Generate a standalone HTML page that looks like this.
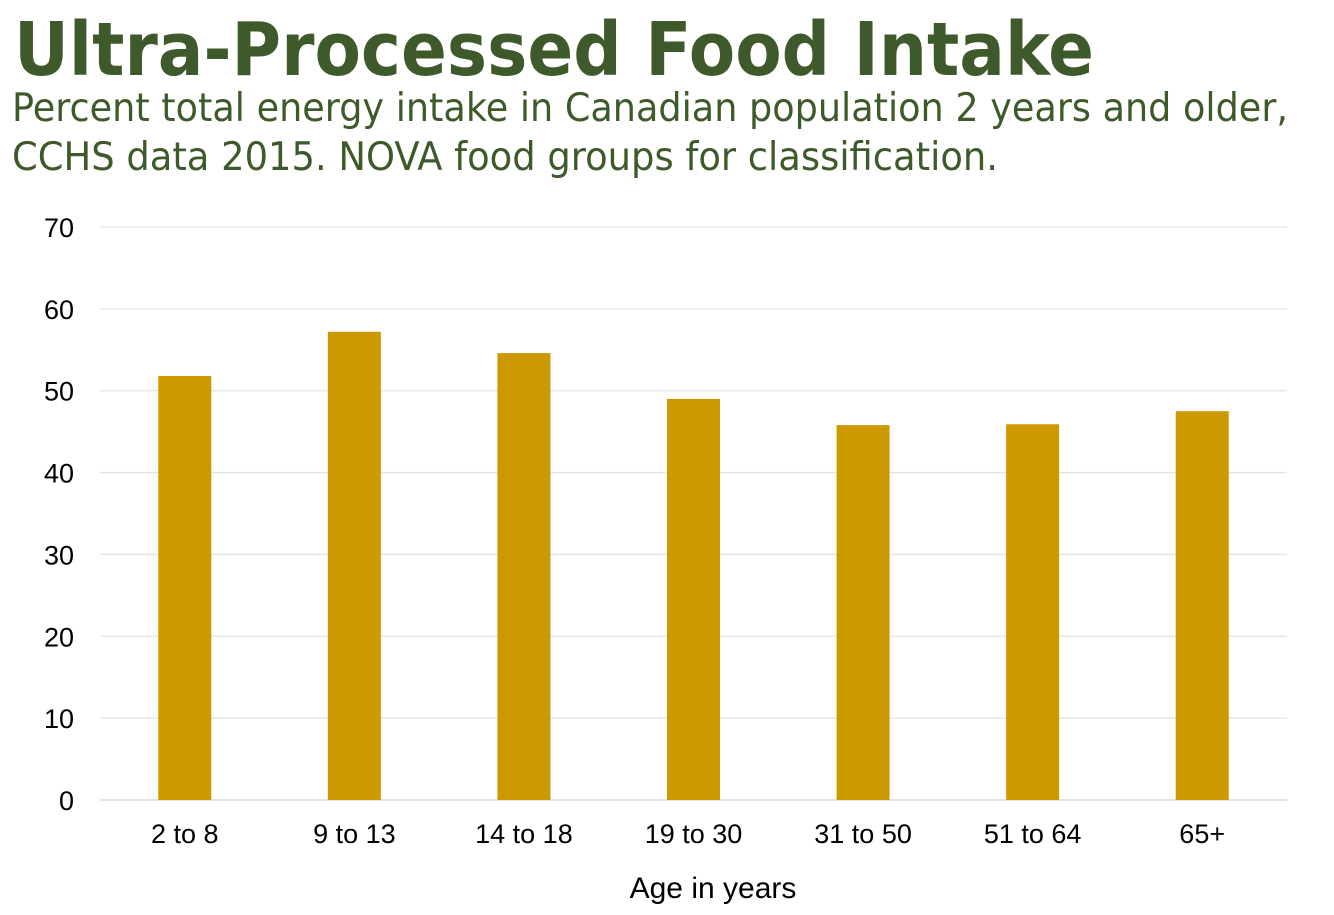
<!DOCTYPE html>
<html><head><meta charset="utf-8"><style>
html,body{margin:0;padding:0;background:#fff;}
svg{display:block;}
</style></head><body>
<svg id="chart" width="1334" height="915" viewBox="0 0 1334 915" xmlns="http://www.w3.org/2000/svg">
<text x="14" y="75" font-family="DejaVu Sans, sans-serif" font-weight="bold" font-size="74" fill="#3f5a2a" textLength="1080" lengthAdjust="spacingAndGlyphs">Ultra-Processed Food Intake</text>
<text x="12" y="121" font-family="DejaVu Sans, sans-serif" font-size="39" fill="#3f5a2a" textLength="1276" lengthAdjust="spacingAndGlyphs">Percent total energy intake in Canadian population 2 years and older,</text>
<text x="12" y="170" font-family="DejaVu Sans, sans-serif" font-size="39" fill="#3f5a2a" textLength="986" lengthAdjust="spacingAndGlyphs">CCHS data 2015. NOVA food groups for classification.</text>
<g id="grid"></g><g id="bars"></g><g id="labels"></g>
<text x="713" y="898" text-anchor="middle" font-family="Liberation Sans, sans-serif" font-size="30" fill="#000">Age in years</text>
</svg>
<script>
const categories = ["2 to 8","9 to 13","14 to 18","19 to 30","31 to 50","51 to 64","65+"];
const values = [51.8, 57.2, 54.6, 49.0, 45.8, 45.9, 47.5];
const yTicks = [0,10,20,30,40,50,60,70];
const NS="http://www.w3.org/2000/svg";
const x0=100,x1=1287,yBase=800,yTop=227,yMax=70;
const y=v=>yBase-(v/yMax)*(yBase-yTop);
const band=(x1-x0)/categories.length;
const xc=i=>x0+band*(i+0.5);
const grid=document.getElementById('grid'),bars=document.getElementById('bars'),labels=document.getElementById('labels');
function mk(t,a){const e=document.createElementNS(NS,t);for(const k in a)e.setAttribute(k,a[k]);return e;}
yTicks.forEach(t=>{
  const l=mk('line',{x1:x0,x2:x1,y1:y(t),y2:y(t),stroke:t===0?'#d0d0d0':'#e3e3e3','stroke-width':1.3});
  
  
  grid.appendChild(l);
  const tx=mk('text',{x:74,y:y(t)+10,'text-anchor':'end','font-family':'Liberation Sans, sans-serif','font-size':27,fill:'#000'});
  tx.textContent=t;
  
  
  labels.appendChild(tx);
});
const bw=53;
categories.forEach((c,i)=>{
  const r=mk('rect',{x:xc(i)-bw/2,y:y(values[i]),width:bw,height:yBase-y(values[i]),fill:'#cc9900'});
  
  
  bars.appendChild(r);
  const tx=mk('text',{x:xc(i),y:843,'text-anchor':'middle','font-family':'Liberation Sans, sans-serif','font-size':27,fill:'#000'});
  tx.textContent=c;
  
  
  labels.appendChild(tx);
});
</script>
</body></html>
